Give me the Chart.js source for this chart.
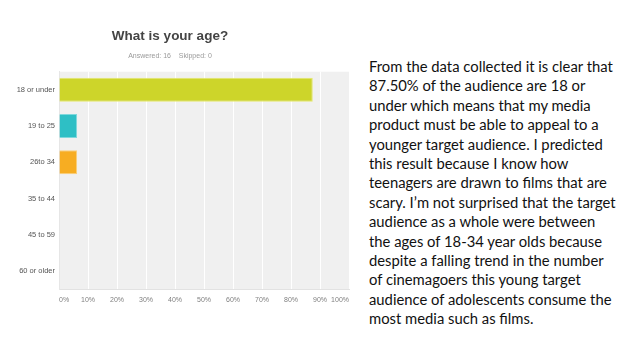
<!DOCTYPE html>
<html>
<head>
<meta charset="utf-8">
<script src="https://cdn.jsdelivr.net/npm/chart.js@4/dist/chart.umd.min.js"></script>
<style>
  html, body { margin: 0; padding: 0; background: #ffffff; width: 638px; height: 359px; overflow: hidden; }
  #wrap { position: absolute; left: -9px; top: 0; width: 369px; height: 359px; }
  #note {
    position: absolute; left: 369px; top: 57px; width: 269px;
    font-family: "Lato", "Open Sans", sans-serif; font-size: 14.8px; line-height: 19.4px;
    color: #111; white-space: nowrap;
  }
</style>
</head>
<body>
<div id="wrap"><canvas id="c" width="369" height="359"></canvas></div>
<div id="note">From the data collected it is clear that<br>87.50% of the audience are 18 or<br>under which means that my media<br>product must be able to appeal to a<br>younger target audience. I predicted<br>this result because I know how<br>teenagers are drawn to films that are<br>scary. I’m not surprised that the target<br>audience as a whole were between<br>the ages of 18-34 year olds because<br>despite a falling trend in the number<br>of cinemagoers this young target<br>audience of adolescents consume the<br>most media such as films.</div>
<script>
const categories = ["18 or under", "19 to 25", "26to 34", "35 to 44", "45 to 59", "60 or older"];
const percentValues = [87.5, 6.25, 6.25, 0, 0, 0];
const barColors = ["#cdd52a", "#2ebfc5", "#f7ad22", "#cdd52a", "#cdd52a", "#cdd52a"];
const barBorders = ["#e4e86a", "#7fd8dc", "#fbcf7a", "#e4e86a", "#e4e86a", "#e4e86a"];
const titleText = "What is your age?";
const subtitleText = "Answered: 16    Skipped: 0";

const plotBg = {
  id: "plotBg",
  beforeDraw(chart) {
    const { ctx, chartArea: a } = chart;
    ctx.save();
    ctx.fillStyle = "#f0f0f0";
    ctx.fillRect(a.left, a.top, a.right - a.left, a.bottom - a.top);
    ctx.restore();
  }
};

new Chart(document.getElementById("c"), {
  type: "bar",
  data: {
    labels: categories,
    datasets: [{
      data: percentValues,
      backgroundColor: barColors,
      borderColor: barBorders,
      borderWidth: 1,
      barPercentage: 0.66,
      categoryPercentage: 1.0
    }]
  },
  plugins: [plotBg],
  options: {
    indexAxis: "y",
    responsive: false,
    animation: false,
    layout: { padding: { left: 0, right: 11, top: 0, bottom: 0 } },
    plugins: {
      legend: { display: false },
      tooltip: { enabled: false },
      title: {
        display: true,
        text: titleText,
        color: "#444444",
        font: { family: "Liberation Sans", size: 13.5, weight: "bold", lineHeight: 1.2 },
        padding: { top: 28.6, bottom: 0 }
      },
      subtitle: {
        display: true,
        text: subtitleText,
        color: "#9a9a9a",
        font: { family: "Liberation Sans", size: 7, lineHeight: 1.2 },
        padding: { top: 6.7, bottom: 11.8 }
      }
    },
    scales: {
      x: {
        min: 0,
        max: 100,
        afterFit(scale) { scale.height = 70; },
        ticks: {
          stepSize: 10,
          align: "inner",
          padding: 6.8,
          color: "#808080",
          font: { family: "Liberation Sans", size: 7 },
          callback: (v) => v + "%"
        },
        grid: { color: "#ffffff", lineWidth: 1, drawTicks: false },
        border: { display: true, color: "#e2e2e2" }
      },
      y: {
        afterFit(scale) { scale.width = 68; },
        ticks: {
          padding: 4,
          color: "#555555",
          font: { family: "Liberation Sans", size: 7.5 }
        },
        grid: { display: false, drawTicks: false },
        border: { display: true, color: "#e6e6e6" }
      }
    }
  }
});
</script>
</body>
</html>
